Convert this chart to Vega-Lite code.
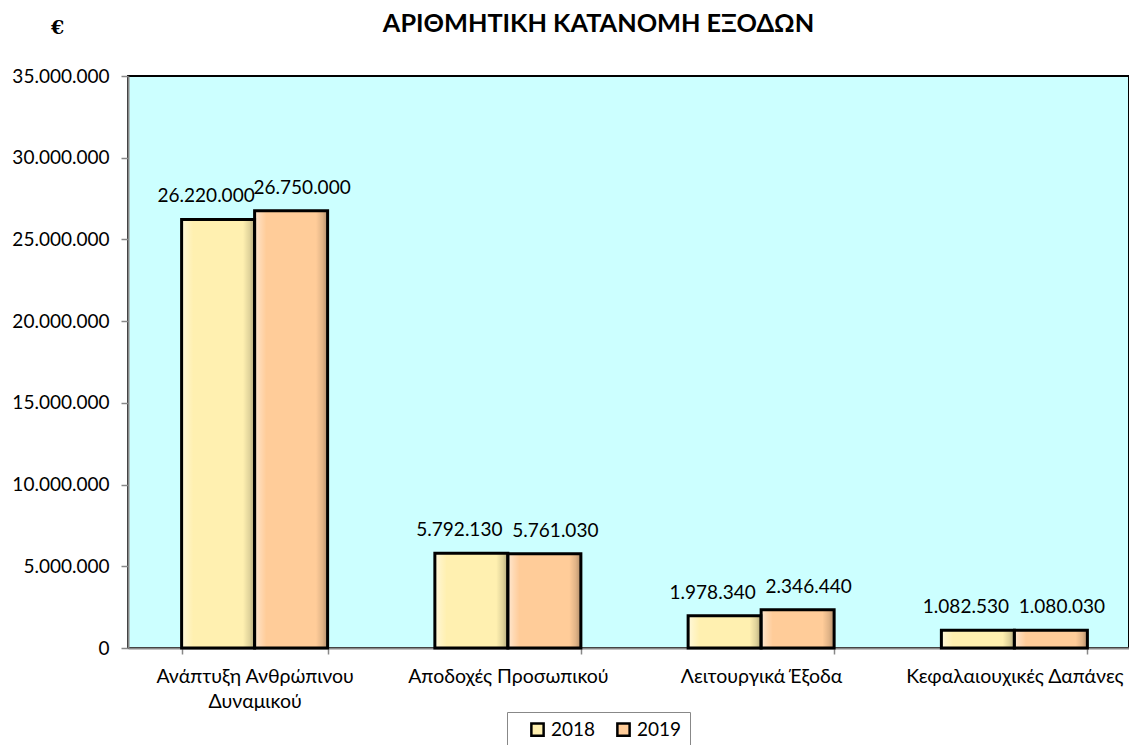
{
  "$schema": "https://vega.github.io/schema/vega-lite/v6.json",
  "autosize": {"type": "none"},
  "padding": {"left": 128, "top": 76, "right": 0, "bottom": 97},
  "width": 1001,
  "height": 572,
  "background": "white",
  "title": {"text": "ΑΡΙΘΜΗΤΙΚΗ ΚΑΤΑΝΟΜΗ ΕΞΟΔΩΝ", "font": "Lato", "fontSize": 25.3, "fontWeight": "bold", "color": "black", "anchor": "middle", "frame": "group", "dx": -30, "offset": -19},
  "config": {
    "locale": {"number": {"decimal": ",", "thousands": ".", "grouping": [3], "currency": ["", " €"]}},
    "view": {"fill": "#CCFFFF", "stroke": "black", "strokeWidth": 2},
    "font": "Lato"
  },
  "data": {"values": [
    {"category": "Ανάπτυξη Ανθρώπινου Δυναμικού", "year": "2018", "value": 26220000},
    {"category": "Ανάπτυξη Ανθρώπινου Δυναμικού", "year": "2019", "value": 26750000},
    {"category": "Αποδοχές Προσωπικού", "year": "2018", "value": 5792130},
    {"category": "Αποδοχές Προσωπικού", "year": "2019", "value": 5761030},
    {"category": "Λειτουργικά Έξοδα", "year": "2018", "value": 1978340},
    {"category": "Λειτουργικά Έξοδα", "year": "2019", "value": 2346440},
    {"category": "Κεφαλαιουχικές Δαπάνες", "year": "2018", "value": 1082530},
    {"category": "Κεφαλαιουχικές Δαπάνες", "year": "2019", "value": 1080030}
  ]},
  "encoding": {
    "x": {"field": "category", "type": "nominal", "sort": null,
      "scale": {"range": [0, 1013], "paddingInner": 0.4235, "paddingOuter": 0.2117},
      "axis": {"title": null, "labelAngle": 0, "labelFontSize": 19.5, "labelColor": "black", "labelPadding": 13, "labelLimit": 0,
        "labelLineHeight": 25, "domainColor": "#888888", "domainWidth": 2, "tickColor": "#888888", "tickWidth": 1.5, "tickSize": 6, "tickBand": "extent",
        "labelExpr": "datum.label == 'Ανάπτυξη Ανθρώπινου Δυναμικού' ? ['Ανάπτυξη Ανθρώπινου', 'Δυναμικού'] : datum.label"}},
    "xOffset": {"field": "year", "type": "nominal"},
    "y": {"field": "value", "type": "quantitative",
      "scale": {"domain": [0, 35000000], "nice": false},
      "axis": {"title": "€", "titleAngle": 0, "titleFont": "DejaVu Serif", "titleFontSize": 19, "titleFontWeight": "bold", "titleAnchor": "end", "titleAlign": "center", "titleX": -71, "titleY": -39,
        "values": [0, 5000000, 10000000, 15000000, 20000000, 25000000, 30000000, 35000000],
        "format": ",d", "labelFontSize": 19, "labelColor": "black", "labelPadding": 12, "grid": false,
        "domainColor": "#888888", "domainWidth": 2, "tickColor": "#888888", "tickWidth": 1.5, "tickSize": 7}}
  },
  "layer": [
    {
      "mark": {"type": "bar"},
      "encoding": {
        "color": {"field": "year", "type": "nominal",
          "scale": {"domain": ["2018", "2019"], "range": ["#FFF0B0", "#FFCC99"]},
          "legend": {"title": null, "orient": "none", "legendX": 379, "legendY": 636, "direction": "horizontal",
            "symbolType": "square", "symbolSize": 150, "symbolStrokeColor": "black", "symbolStrokeWidth": 2.5,
            "symbolOffset": 13, "labelOffset": 4,
            "labelFontSize": 19, "labelColor": "black", "columnPadding": 5,
            "labelExpr": "datum.label == '2019' ? datum.label + '\u00a0\u00a0\u00a0' : datum.label",
            "strokeColor": "#888888", "padding": 8, "fillColor": "white"}}
      }
    },
    {
      "mark": {"type": "bar", "stroke": "black", "strokeWidth": 3,
        "fill": {"gradient": "linear", "x1": 0, "y1": 0, "x2": 1, "y2": 0, "stops": [
          {"offset": 0, "color": "rgba(255,255,255,0.55)"},
          {"offset": 0.08, "color": "rgba(255,255,255,0.25)"},
          {"offset": 0.16, "color": "rgba(255,255,255,0)"},
          {"offset": 0.84, "color": "rgba(0,0,0,0)"},
          {"offset": 0.93, "color": "rgba(0,0,0,0.12)"},
          {"offset": 1, "color": "rgba(0,0,0,0.3)"}
        ]}}
    },
    {
      "transform": [{"filter": "datum.year == '2018'"}],
      "mark": {"type": "text", "dy": -23, "dx": -12, "fontSize": 19, "color": "black", "baseline": "middle"},
      "encoding": {"text": {"field": "value", "type": "quantitative", "format": ",d"}}
    },
    {
      "transform": [{"filter": "datum.year == '2019'"}],
      "mark": {"type": "text", "dy": -23, "dx": 11, "fontSize": 19, "color": "black", "baseline": "middle"},
      "encoding": {"text": {"field": "value", "type": "quantitative", "format": ",d"}}
    }
  ]
}
